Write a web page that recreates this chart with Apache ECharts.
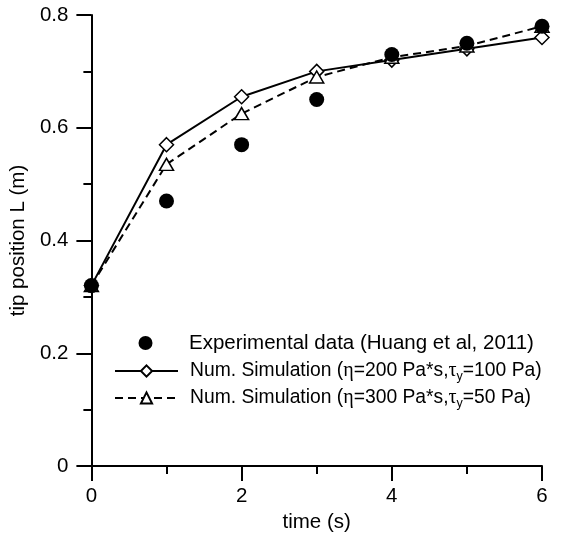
<!DOCTYPE html>
<html>
<head>
<meta charset="utf-8">
<script src="https://cdn.jsdelivr.net/npm/echarts@6/dist/echarts.min.js"></script>
<style>html,body{margin:0;padding:0;background:#fff}#c{width:571px;height:538px}</style>
</head>
<body>
<div id="c"></div>
<script>
var times = [0, 1, 2, 3, 4, 5, 6];
var expData = [0.32, 0.47, 0.57, 0.65, 0.73, 0.75, 0.78];
var sim1Data = [0.32, 0.57, 0.655, 0.70, 0.72, 0.74, 0.76];
var sim2Data = [0.32, 0.535, 0.625, 0.69, 0.725, 0.745, 0.78];
var seriesNames = ['Experimental data (Huang et al, 2011)', 'Num. Simulation 1', 'Num. Simulation 2'];
var legendTexts = [
  '{sp|}{b|Experimental data (Huang et al, 2011)}',
  '{sp|}{a|Num. Simulation (}{g|η}{a|=200 Pa*s,}{g|τ}{s|y}{a|=100 Pa)}',
  '{sp|}{a|Num. Simulation (}{g|η}{a|=300 Pa*s,}{g|τ}{s|y}{a|=50 Pa)}'
];

function pairs(ys) { return times.map(function (t, i) { return [t, ys[i]]; }); }
var FONT = '"Liberation Sans", Arial, sans-serif';
var FS = 20.5;
var LEG_W = 63, LEG_H = 14, LEG_LEFT = 109;

function makeLegend(i, top, left) {
  return {
    orient: 'vertical', left: left, top: top,
    itemWidth: LEG_W, itemHeight: LEG_H, itemGap: 0,
    data: [seriesNames[i]],
    formatter: function (name) { return legendTexts[seriesNames.indexOf(name)]; },
    textStyle: {
      fontSize: 19.3, fontFamily: FONT, color: '#000', lineHeight: 24,
      rich: {
        sp: {width: 7, lineHeight: 24},
        b: {fontSize: FS, fontFamily: FONT, color: '#000', lineHeight: 24},
        a: {fontSize: 19.3, fontFamily: FONT, color: '#000', lineHeight: 24},
        g: {fontSize: 20, fontFamily: '"Liberation Serif", serif', color: '#000', lineHeight: 24},
        s: {fontSize: 12.5, fontFamily: FONT, color: '#000', lineHeight: 14, verticalAlign: 'bottom'}
      }
    }
  };
}

var chart = echarts.init(document.getElementById('c'), null, {renderer: 'canvas'});
chart.setOption({
  animation: false,
  backgroundColor: '#fff',
  grid: {left: 91, right: 29, top: 15, bottom: 72, containLabel: false},
  xAxis: {
    type: 'value', min: 0, max: 6, interval: 2,
    name: 'time (s)', nameLocation: 'middle', nameGap: 43,
    nameTextStyle: {fontSize: FS, fontFamily: FONT, color: '#000'},
    axisLine: {show: true, onZero: false, lineStyle: {color: '#000', width: 2}},
    axisTick: {show: true, inside: false, length: 15, lineStyle: {color: '#000', width: 2}},
    minorTick: {show: true, splitNumber: 2, length: 8, lineStyle: {color: '#000', width: 2}},
    axisLabel: {fontSize: FS, fontFamily: FONT, color: '#000', margin: 20},
    splitLine: {show: false}, minorSplitLine: {show: false}
  },
  yAxis: {
    type: 'value', min: 0, max: 0.8, interval: 0.2,
    name: 'tip position L (m)', nameLocation: 'middle', nameGap: 56, nameRotate: 90,
    nameTextStyle: {fontSize: FS, fontFamily: FONT, color: '#000'},
    axisLine: {show: true, onZero: false, lineStyle: {color: '#000', width: 2}},
    axisTick: {show: true, inside: false, length: 15, lineStyle: {color: '#000', width: 2}},
    minorTick: {show: true, splitNumber: 2, length: 8, lineStyle: {color: '#000', width: 2}},
    axisLabel: {fontSize: FS, fontFamily: FONT, color: '#000', margin: 23},
    splitLine: {show: false}, minorSplitLine: {show: false}
  },
  legend: [
    // the circle icon's bounding box starts (LEG_W - LEG_H)/2 into the item, compensate
    makeLegend(0, 326, LEG_LEFT + (LEG_W - LEG_H) / 2),
    makeLegend(1, 354, LEG_LEFT),
    makeLegend(2, 381, LEG_LEFT)
  ],
  series: [
    {
      name: seriesNames[1], type: 'line', data: pairs(sim1Data), z: 2,
      symbol: 'diamond', symbolSize: 14, showAllSymbol: true,
      lineStyle: {color: '#000', width: 2, type: 'solid'},
      itemStyle: {color: '#fff', borderColor: '#000', borderWidth: 1.5}
    },
    {
      name: seriesNames[2], type: 'line', data: pairs(sim2Data), z: 3,
      symbol: 'triangle', symbolSize: [14, 12], showAllSymbol: true,
      lineStyle: {color: '#000', width: 2, type: [8, 5]},
      itemStyle: {color: '#fff', borderColor: '#000', borderWidth: 1.5}
    },
    {
      name: seriesNames[0], type: 'scatter', data: pairs(expData), z: 4,
      symbol: 'circle', symbolSize: 15,
      itemStyle: {color: '#000', opacity: 1}
    }
  ]
});
</script>
</body>
</html>
